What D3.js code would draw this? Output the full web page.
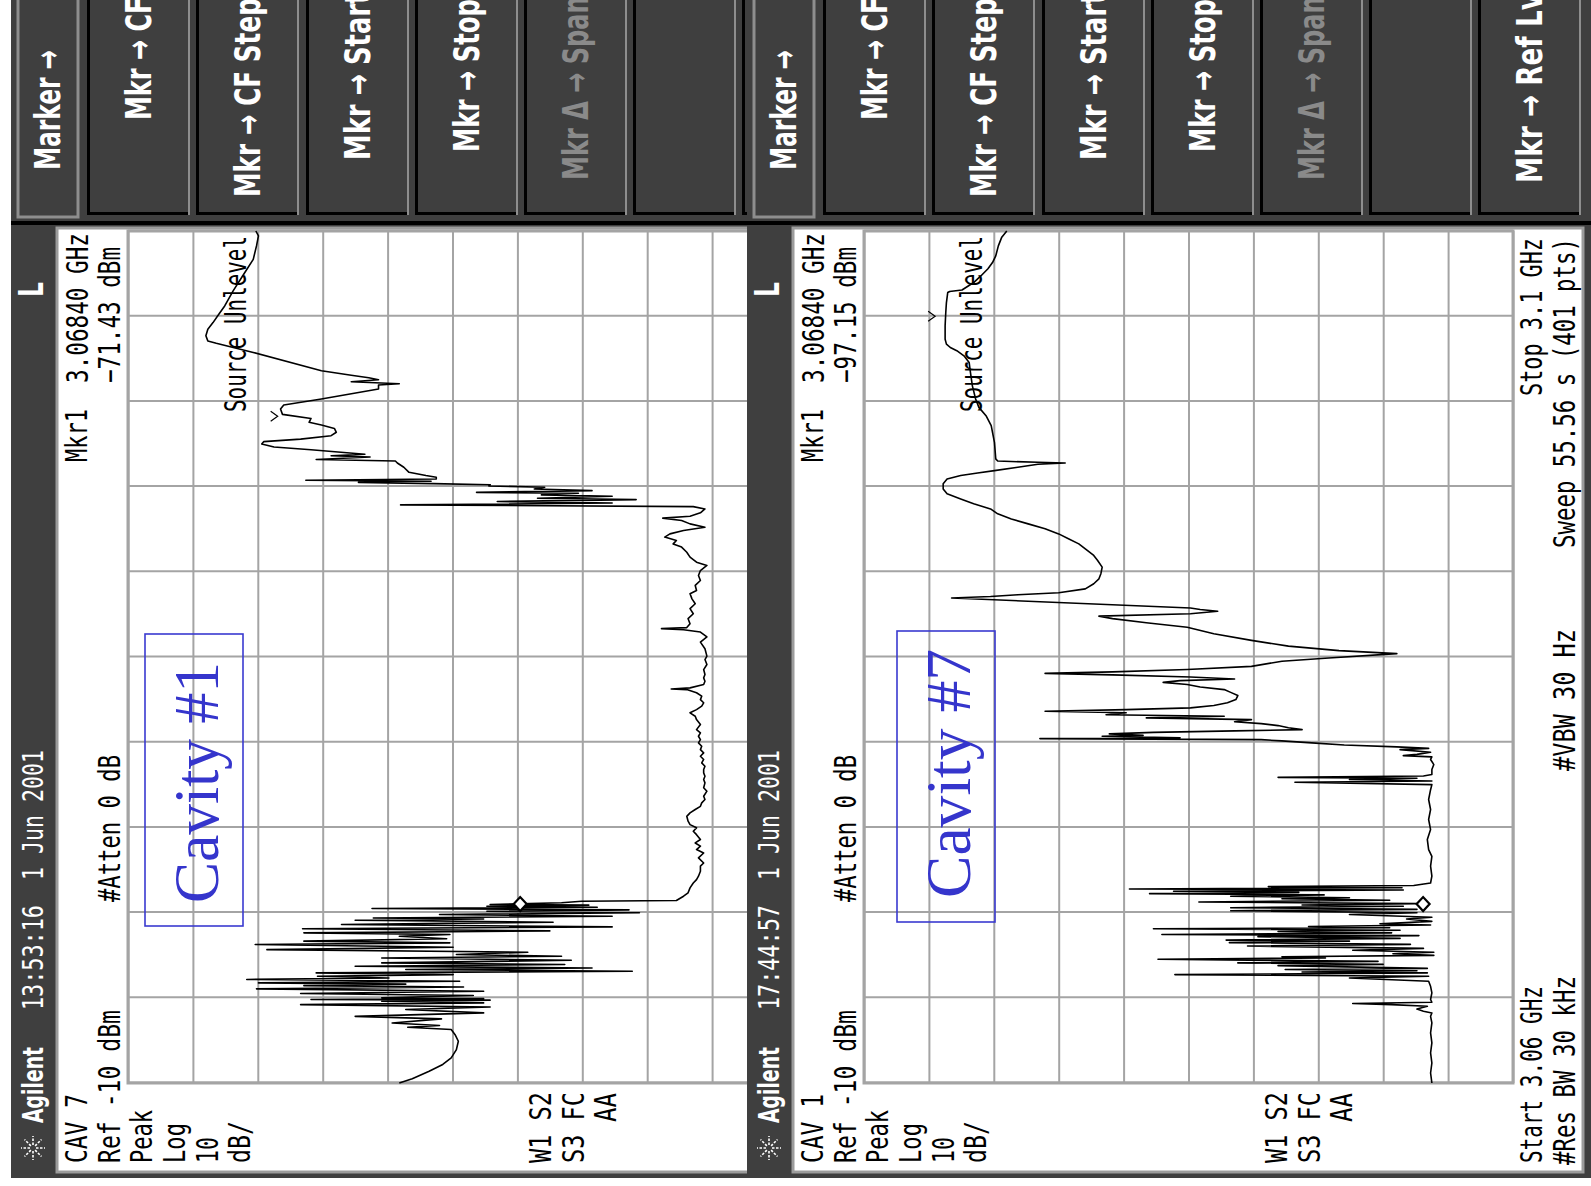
<!DOCTYPE html>
<html lang="en">
  <head>
    <meta charset="utf-8">
    <title>Cavity spectra</title>
    <script src="https://cdn.jsdelivr.net/npm/d3@7"></script>
    <style>
      body { margin: 0; background: #fff; }
      svg { display: block; }
    </style>
  </head>
  <body>
    <script type='text/javascript'>
      // sweep settings (MHz / dBm)
      let freqSpan = [3060, 3100];
      let ampSpan = [-10, -110];
      let freqTicks = [3060, 3064, 3068, 3072, 3076, 3080, 3084, 3088, 3092, 3096, 3100];
      let ampTicks = [-10, -20, -30, -40, -50, -60, -70, -80, -90, -100, -110];

      let panelNames = ['CAV 7', 'CAV 1'];
      let panelTimes = ['13:53:16', '17:44:57'];
      let panelDate = '1 Jun 2001';
      let cavityLabels = ['Cavity #1', 'Cavity #7'];
      let markerFreq = [3068.40, 3068.40];
      let markerLevel = [-71.43, -97.15];
      let flagFreq = [3091.3, 3096.0];
      let flagLevel = [-32.6, -20.5];
      let softkeys = ['Mkr → CF', 'Mkr → CF Step', 'Mkr → Start', 'Mkr → Stop', 'Mkr Δ → Span', '', 'Mkr → Ref Lvl'];

      // traces: [MHz, dBm]
      let cav7Trace = [
        [3060.0,-51.8],[3060.2,-53.8],[3060.55,-56.4],[3060.87,-58.5],[3061.18,-59.8],[3061.57,-60.6],[3061.96,-60.9],[3062.27,-60.4],[3062.51,-59.8],
        [3062.62,-53.1],[3062.70,-58.0],[3062.82,-50.7],[3063.01,-58.3],[3063.13,-45.0],[3063.29,-64.8],[3063.45,-52.8],[3063.57,-65.8],[3063.68,-36.6],[3063.76,-64.8],
        [3063.84,-49.1],[3063.89,-65.8],[3063.92,-38.2],[3063.96,-64.8],[3064.00,-49.1],[3064.11,-63.2],[3064.20,-36.6],[3064.31,-64.8],[3064.42,-29.8],[3064.51,-61.7],
        [3064.57,-37.1],[3064.64,-52.8],[3064.70,-30.1],[3064.78,-61.1],[3064.86,-28.3],[3064.93,-50.2],[3065.01,-39.2],[3065.09,-60.1],[3065.17,-39.0],[3065.25,-87.7],
        [3065.33,-52.8],[3065.40,-81.5],[3065.48,-45.0],[3065.56,-77.3],[3065.64,-49.1],[3065.76,-78.3],[3065.87,-49.1],[3065.95,-76.8],[3066.03,-60.6],[3066.14,-71.6],
        [3066.26,-31.4],[3066.37,-60.1],[3066.50,-29.6],[3066.58,-59.6],[3066.66,-37.1],[3066.77,-59.1],[3066.89,-51.8],[3066.97,-59.6],[3067.05,-37.1],[3067.14,-75.0],
        [3067.24,-36.9],[3067.33,-84.6],[3067.44,-42.9],[3067.55,-75.5],[3067.64,-45.0],[3067.70,-64.8],[3067.75,-47.8],[3067.83,-84.6],[3067.91,-58.0],[3067.99,-88.8],
        [3068.06,-65.3],[3068.13,-87.2],[3068.19,-47.6],[3068.25,-82.3],[3068.30,-65.3],[3068.35,-81.0],[3068.38,-65.8],[3068.46,-76.8],[3068.53,-79.9],[3068.57,-94.5],
        [3068.77,-95.6],[3068.93,-96.3],[3069.16,-96.6],[3069.39,-97.1],[3069.55,-97.6],[3069.71,-97.9],[3069.94,-98.2],[3070.18,-98.2],[3070.33,-98.7],[3070.57,-97.9],
        [3070.80,-98.7],[3070.96,-97.6],[3071.12,-98.2],[3071.27,-97.4],[3071.43,-98.2],[3071.66,-97.6],[3071.82,-97.1],[3071.98,-97.6],[3072.13,-96.6],[3072.29,-96.3],
        [3072.52,-96.1],[3072.68,-96.6],[3072.84,-97.4],[3072.99,-98.2],[3073.15,-98.4],[3073.31,-98.9],[3073.46,-98.7],[3073.70,-99.2],[3073.86,-98.7],[3074.09,-98.9],
        [3074.25,-98.7],[3074.40,-98.9],[3074.56,-98.7],[3074.72,-98.7],[3074.87,-98.9],[3075.03,-98.4],[3075.19,-98.7],[3075.34,-98.2],[3075.50,-98.7],[3075.65,-98.2],
        [3075.81,-98.4],[3075.97,-97.9],[3076.12,-98.2],[3076.28,-97.9],[3076.44,-98.2],[3076.59,-97.6],[3076.83,-98.2],[3077.06,-97.6],[3077.22,-97.4],[3077.38,-96.6],
        [3077.53,-97.6],[3077.69,-98.4],[3077.85,-98.7],[3078.00,-98.2],[3078.16,-98.4],[3078.32,-97.6],[3078.47,-96.1],[3078.50,-93.7],[3078.55,-96.6],[3078.71,-98.7],
        [3078.86,-98.9],[3079.02,-98.7],[3079.18,-98.9],[3079.41,-98.7],[3079.65,-99.2],[3079.88,-98.9],[3080.04,-99.2],
        [3080.39,-98.9],[3080.70,-98.2],[3080.94,-99.2],[3081.17,-98.2],[3081.28,-95.6],[3081.33,-92.2],[3081.38,-96.1],[3081.56,-96.6],[3081.80,-96.3],[3082.03,-97.1],
        [3082.27,-96.6],[3082.50,-97.4],[3082.73,-96.9],[3082.97,-96.6],[3083.12,-97.6],[3083.36,-97.4],[3083.59,-98.2],[3083.83,-97.9],[3084.06,-98.2],[3084.30,-99.2],
        [3084.45,-97.6],[3084.69,-96.6],[3084.92,-96.1],[3085.16,-95.3],[3085.31,-94.0],[3085.47,-94.5],[3085.63,-92.7],[3085.78,-93.5],[3085.94,-95.6],[3086.09,-98.9],
        [3086.25,-96.6],[3086.41,-95.3],[3086.52,-92.4],[3086.61,-96.6],[3086.77,-98.2],[3086.95,-98.9],[3087.06,-97.1],
        [3087.14,-52.0],[3087.23,-84.6],[3087.30,-66.9],[3087.39,-88.3],[3087.45,-73.1],[3087.55,-84.6],[3087.61,-73.7],[3087.69,-79.4],[3087.73,-63.7],[3087.81,-81.5],
        [3087.89,-72.6],[3087.97,-74.2],[3088.03,-65.6],[3088.09,-65.8],[3088.14,-57.0],[3088.20,-45.5],[3088.25,-56.7],[3088.30,-37.4],[3088.36,-57.5],[3088.44,-57.5],
        [3088.52,-55.9],[3088.67,-53.3],[3088.91,-52.5],[3089.11,-51.5],[3089.20,-51.2],[3089.27,-39.0],[3089.39,-47.3],[3089.45,-41.3],[3089.52,-46.5],[3089.73,-38.2],
        [3089.86,-32.5],[3090.00,-30.6],[3090.11,-30.9],[3090.23,-36.6],[3090.39,-41.3],[3090.55,-42.1],[3090.73,-41.8],[3090.89,-39.8],[3091.02,-37.9],[3091.20,-38.2],
        [3091.39,-33.8],[3091.64,-33.5],[3091.83,-34.0],[3092.11,-39.8],[3092.58,-48.6],[3092.77,-48.6],[3092.83,-51.8],[3092.92,-44.4],[3093.02,-48.6],[3093.11,-47.1],
        [3093.23,-44.4],[3093.44,-39.8],[3094.30,-29.3],[3094.73,-23.6],[3094.84,-22.3],[3095.08,-22.0],[3095.39,-22.3],[3095.70,-23.1],[3096.14,-24.1],[3096.48,-24.9],
        [3097.19,-26.2],[3098.05,-28.0],[3098.67,-29.3],[3099.30,-29.8],[3099.77,-30.1],[3100.00,-29.7]
      ];

      let cav1Trace = [
        [3060.00,-97.5],[3060.47,-97.3],[3060.94,-97.5],[3061.41,-97.3],[3061.88,-97.5],[3062.35,-97.3],[3062.82,-97.5],[3063.13,-97.3],[3063.29,-97.5],[3063.37,-96.2],
        [3063.47,-95.2],[3063.60,-96.8],[3063.68,-91.3],[3063.73,-85.3],[3063.79,-97.5],[3063.92,-97.3],[3064.23,-97.5],[3064.54,-97.3],[3064.78,-97.0],
        [3064.93,-84.8],[3065.01,-97.0],[3065.09,-57.9],[3065.17,-96.8],[3065.21,-77.5],[3065.27,-95.2],[3065.33,-74.9],[3065.38,-96.8],[3065.51,-73.8],[3065.57,-90.0],
        [3065.64,-67.6],[3065.71,-89.2],[3065.81,-55.3],[3065.87,-81.1],[3065.93,-74.4],[3065.99,-97.8],[3066.07,-91.5],[3066.14,-97.8],[3066.23,-85.3],[3066.32,-96.2],
        [3066.43,-69.1],[3066.51,-94.2],[3066.59,-66.3],[3066.66,-84.8],[3066.71,-65.8],[3066.79,-92.6],[3066.87,-70.7],[3066.92,-95.5],[3066.97,-55.9],[3067.05,-91.3],
        [3067.11,-73.8],[3067.17,-92.6],[3067.24,-54.6],[3067.29,-91.0],[3067.35,-78.5],[3067.42,-97.3],[3067.48,-89.5],[3067.59,-97.5],[3067.70,-93.6],[3067.78,-97.5],
        [3067.91,-84.8],[3067.99,-95.2],[3068.09,-66.5],[3068.15,-95.2],[3068.23,-66.5],[3068.30,-93.1],[3068.36,-77.5],[3068.42,-95.2],[3068.50,-61.6],[3068.58,-91.0],
        [3068.65,-74.4],[3068.70,-84.8],[3068.77,-66.5],[3068.83,-80.9],[3068.89,-54.0],[3068.95,-77.0],[3069.00,-57.7],[3069.06,-93.1],[3069.11,-50.9],[3069.17,-92.9],
        [3069.22,-72.3],[3069.27,-94.7],
        [3069.39,-97.3],[3069.71,-97.5],[3070.18,-97.3],[3070.64,-97.5],[3070.96,-97.0],[3071.43,-96.8],[3071.90,-97.3],[3072.37,-97.0],[3072.84,-97.3],[3073.31,-97.0],
        [3073.77,-97.3],[3074.01,-97.5],
        [3074.12,-76.4],[3074.18,-97.5],[3074.25,-84.8],[3074.31,-95.2],[3074.35,-73.8],[3074.41,-96.2],[3074.48,-97.5],[3074.72,-97.5],[3074.95,-97.8],[3075.19,-97.3],
        [3075.31,-97.5],[3075.37,-93.1],[3075.43,-95.2],[3075.53,-97.3],[3075.65,-92.6],[3075.71,-97.0],
        [3075.78,-92.1],[3075.87,-84.0],[3075.97,-79.0],[3076.06,-74.4],[3076.12,-71.2],[3076.17,-37.1],[3076.21,-58.7],[3076.28,-46.7],[3076.32,-53.0],[3076.39,-47.8],
        [3076.46,-54.6],[3076.53,-67.1],[3076.59,-77.5],[3076.68,-75.4],[3076.78,-73.8],[3076.87,-71.2],[3076.96,-67.1],[3077.06,-69.7],[3077.14,-53.5],[3077.22,-65.5],
        [3077.29,-47.3],[3077.38,-50.4],[3077.45,-37.9],[3077.53,-50.4],[3077.61,-60.3],[3077.72,-63.9],[3077.85,-66.0],[3078.00,-67.3],[3078.19,-67.6],[3078.34,-66.5],
        [3078.47,-65.5],[3078.59,-61.8],[3078.71,-59.8],[3078.81,-56.1],[3078.89,-58.7],[3078.97,-67.1],[3079.06,-60.3],[3079.16,-48.3],[3079.23,-37.9],[3079.30,-48.3],
        [3079.41,-59.8],[3079.56,-69.7],[3079.80,-74.4],[3079.95,-81.6],[3080.16,-92.1],
        [3080.30,-83.2],[3080.51,-75.4],[3080.78,-69.7],[3081.09,-63.9],[3081.40,-59.8],[3081.61,-53.5],[3081.80,-48.3],[3081.92,-46.2],[3082.03,-60.3],[3082.15,-64.5],
        [3082.23,-61.8],[3082.30,-60.3],[3082.77,-23.5],[3082.84,-29.5],[3082.92,-33.7],[3083.02,-40.0],[3083.20,-44.1],[3083.44,-45.4],[3083.67,-46.2],[3083.91,-46.5],
        [3084.22,-46.7],[3084.53,-46.0],[3084.77,-45.4],[3085.08,-44.1],[3085.31,-43.1],[3085.55,-41.5],[3085.78,-40.0],[3086.02,-37.9],[3086.25,-35.3],[3086.48,-32.7],
        [3086.72,-30.6],[3086.95,-29.5],[3087.19,-26.9],[3087.42,-24.9],[3087.66,-22.8],[3087.89,-22.2],[3088.13,-22.2],[3088.36,-22.8],[3088.52,-24.9],[3088.64,-27.5],
        [3088.75,-30.1],[3088.91,-33.7],[3089.05,-36.8],[3089.11,-41.0],[3089.14,-36.8],[3089.20,-30.6],[3089.30,-30.3],[3090.08,-30.1],[3090.86,-29.6],[3091.33,-28.8],
        [3091.72,-27.7],[3092.11,-27.2],[3092.73,-26.7],[3093.36,-26.4],[3093.83,-26.2],[3094.14,-25.4],[3094.38,-24.3],[3094.53,-23.3],[3094.69,-22.7],[3094.92,-22.5],
        [3095.55,-22.5],[3096.17,-22.6],[3096.64,-22.7],[3097.11,-22.9],[3097.16,-23.2],[3097.23,-25.1],[3097.58,-26.9],[3097.89,-28.0],[3098.23,-29.1],[3098.52,-29.8],
        [3098.83,-30.3],[3099.30,-30.7],[3099.69,-31.2],[3100.00,-32.0]
      ];
      let traces = [cav7Trace, cav1Trace];

      let width = 1591, height = 1186;
      let svg = d3.select('body').append('svg')
        .attr('width', width)
        .attr('height', height)

      // screen coords of the analyzer (drawn landscape, then turned -90deg)
      let fx = d3.scaleLinear().domain(freqSpan).range([103, 955]);
      let ay = d3.scaleLinear().domain(ampSpan).range([128, 777]);
      let line = d3.line().x(d => fx(d[0])).y(d => ay(d[1]));

      let mono = "'DejaVu Sans Mono', monospace";
      let sans = "'DejaVu Sans', sans-serif";

      function txt(g, s, u, v, o) {
        o = o || {};
        let t = g.append('text')
          .attr('x', u).attr('y', v)
          .attr('font-family', o.family || mono)
          .attr('font-size', o.size || 30)
          .attr('fill', o.fill || '#000')
          .text(s);
        if (o.weight) t.attr('font-weight', o.weight);
        if (o.len) t.attr('textLength', o.len).attr('lengthAdjust', 'spacingAndGlyphs');
        return t;
      }

      function logo(g, cu, cv) {
        for (let k = 0; k < 8; k++) {
          let a = k * Math.PI / 4;
          g.append('line')
            .attr('x1', cu + 3 * Math.cos(a)).attr('y1', cv + 3 * Math.sin(a))
            .attr('x2', cu + 12 * Math.cos(a)).attr('y2', cv + 12 * Math.sin(a))
            .attr('stroke', '#fff').attr('stroke-width', 1.6)
            .attr('stroke-dasharray', '2.5,1.5');
        }
      }

      let keyV = [87, 196, 306, 415, 524, 633, 742];
      let keyStart = [1066, 989, 1026, 1034, 1006, 0, 1003];
      let boxes = [
        {u: 260, v: 145, w: 292, h: 98, tu: 283, tv: 218, len: 241},
        {u: 264, v: 161, w: 291, h: 98, tu: 288, tv: 234, len: 249}
      ];

      function drawPanel(i) {
        let dx = i == 0 ? 0 : 736;
        let vMax = i == 0 ? 770 : 855;
        let g = svg.append('g').attr('transform', 'translate(' + dx + ',' + height + ') rotate(-90)');

        // bezel and screen
        g.append('rect').attr('x', 8).attr('y', 11).attr('width', 1200).attr('height', vMax - 11).attr('fill', '#3f3f3f');
        g.append('rect').attr('x', 14).attr('y', 57).attr('width', 944).attr('height', (i == 0 ? 770 : 847) - 57)
          .attr('fill', '#fff').attr('stroke', '#9c9c9c').attr('stroke-width', 3);
        g.append('line').attr('x1', 963).attr('x2', 963).attr('y1', 11).attr('y2', vMax)
          .attr('stroke', '#000').attr('stroke-width', 4);

        // title strip
        logo(g, 38, 33);
        txt(g, 'Agilent', 63, 43, {family: sans, weight: 'bold', size: 28, fill: '#fff', len: 76});
        txt(g, panelTimes[i], 176, 43, {size: 29, fill: '#fff', len: 105});
        txt(g, panelDate, 306, 43, {size: 29, fill: '#fff', len: 130});
        txt(g, 'L', 889, 43, {family: sans, weight: 'bold', size: 34, fill: '#fff', len: 15});

        // softkeys (the left screen is cut before its last key)
        g.append('rect').attr('x', 969).attr('y', 18).attr('width', 240).attr('height', 60)
          .attr('fill', '#3f3f3f').attr('stroke', '#8e8e8e').attr('stroke-width', 3);
        txt(g, 'Marker →', 1016, 60, {family: sans, weight: 'bold', size: 35, fill: '#fff', len: 120});
        softkeys.forEach((k, j) => {
          let v0 = keyV[j];
          let b = g.append('g');
          b.append('rect').attr('x', 971).attr('y', v0).attr('width', 240).attr('height', 103).attr('fill', '#3f3f3f');
          b.append('line').attr('x1', 971).attr('x2', 1211).attr('y1', v0 + 1.5).attr('y2', v0 + 1.5).attr('stroke', '#000').attr('stroke-width', 3);
          b.append('line').attr('x1', 972.5).attr('x2', 972.5).attr('y1', v0).attr('y2', v0 + 103).attr('stroke', '#000').attr('stroke-width', 3);
          b.append('line').attr('x1', 971).attr('x2', 1211).attr('y1', v0 + 102).attr('y2', v0 + 102).attr('stroke', '#8e8e8e').attr('stroke-width', 2);
          if (k && v0 + 60 < vMax) txt(b, k, keyStart[j], v0 + 64, {family: sans, weight: 'bold', size: 35,
            fill: k.indexOf('Δ') >= 0 ? '#8a8a8a' : '#fff', len: k.length * 15.3});
        });

        // graticule
        let grid = g.append('g');
        grid.append('g')
          .attr('transform', 'translate(0,' + ay.range()[0] + ')')
          .call(d3.axisTop(fx).tickValues(freqTicks).tickSize(-(ay.range()[1] - ay.range()[0])).tickFormat(''));
        grid.append('g')
          .attr('transform', 'translate(' + fx.range()[0] + ',0)')
          .call(d3.axisLeft(ay).tickValues(ampTicks).tickSize(-(fx.range()[1] - fx.range()[0])).tickFormat(''));
        grid.selectAll('.domain').remove();
        grid.selectAll('line').attr('stroke', '#a4a4a4').attr('stroke-width', 2);
        g.append('rect').attr('x', fx.range()[0]).attr('y', ay.range()[0])
          .attr('width', fx.range()[1] - fx.range()[0]).attr('height', ay.range()[1] - ay.range()[0])
          .attr('fill', 'none').attr('stroke', '#a4a4a4').attr('stroke-width', 3);

        // annotation box
        let bx = boxes[i];
        g.append('rect').attr('x', bx.u).attr('y', bx.v).attr('width', bx.w).attr('height', bx.h)
          .attr('fill', 'none').attr('stroke', '#3a3ad0').attr('stroke-width', 1.6);
        txt(g, cavityLabels[i], bx.tu, bx.tv, {family: "'Liberation Serif', serif", size: 64, fill: '#3535cc', len: bx.len});

        // screen annotations
        txt(g, panelNames[i], 23, 87, {len: 69});
        txt(g, 'Ref ' + ampSpan[0] + ' dBm', 23, 120, {len: 153});
        txt(g, 'Peak', 23, 152, {len: 53});
        txt(g, 'Log', 23, 185, {len: 40});
        txt(g, '10', 23, 218, {len: 26});
        txt(g, 'dB/', 23, 250, {len: 42});
        txt(g, '#Atten 0 dB', 284, 120, {len: 147});
        txt(g, 'Mkr1', 724, 87, {len: 53});
        txt(g, d3.format('.5f')(markerFreq[i] / 1000) + ' GHz', 803, 88, {len: 150});
        txt(g, d3.format('.2f')(markerLevel[i]) + ' dBm', 803, 120, {len: 136});
        txt(g, 'Source Unlevel', 774, 246, {len: 176});
        txt(g, 'W1 S2', 23, 551, {len: 71});
        txt(g, 'S3 FC', 23, 584, {len: 71});
        txt(g, 'AA', 64, 616, {len: 29});
        if (i == 1) {
          txt(g, 'Start ' + freqSpan[0] / 1000 + ' GHz', 23, 806, {len: 177});
          txt(g, 'Stop ' + freqSpan[1] / 1000 + ' GHz', 790, 806, {len: 158});
          txt(g, '#Res BW 30 kHz', 21, 839, {len: 189});
          txt(g, '#VBW 30 Hz', 415, 839, {len: 142});
          txt(g, 'Sweep 55.56 s (401 pts)', 638, 839, {len: 310});
        }

        // trace
        g.append('path')
          .datum(traces[i])
          .attr('d', line)
          .attr('fill', 'none')
          .attr('stroke', '#000')
          .attr('stroke-width', 1.6)
          .attr('stroke-linejoin', 'round');

        // small caret
        let cu = fx(flagFreq[i]), cv = ay(flagLevel[i]);
        g.append('path')
          .attr('d', 'M' + (cu + 5) + ',' + (cv - 4) + 'L' + cu + ',' + (cv + 3) + 'L' + (cu - 5) + ',' + (cv - 4))
          .attr('fill', 'none').attr('stroke', '#000').attr('stroke-width', 1.2);

        // marker diamond sits on top of the marked point
        let mu = fx(markerFreq[i]), mv = ay(markerLevel[i]);
        g.append('path')
          .attr('d', 'M' + mu + ',' + mv + 'L' + (mu - 7) + ',' + (mv - 6.5) + 'L' + mu + ',' + (mv - 13) + 'L' + (mu + 7) + ',' + (mv - 6.5) + 'Z')
          .attr('fill', '#fff').attr('stroke', '#000').attr('stroke-width', 2.2);
      }

      drawPanel(0);
      drawPanel(1);
    </script>
  </body>
</html>
